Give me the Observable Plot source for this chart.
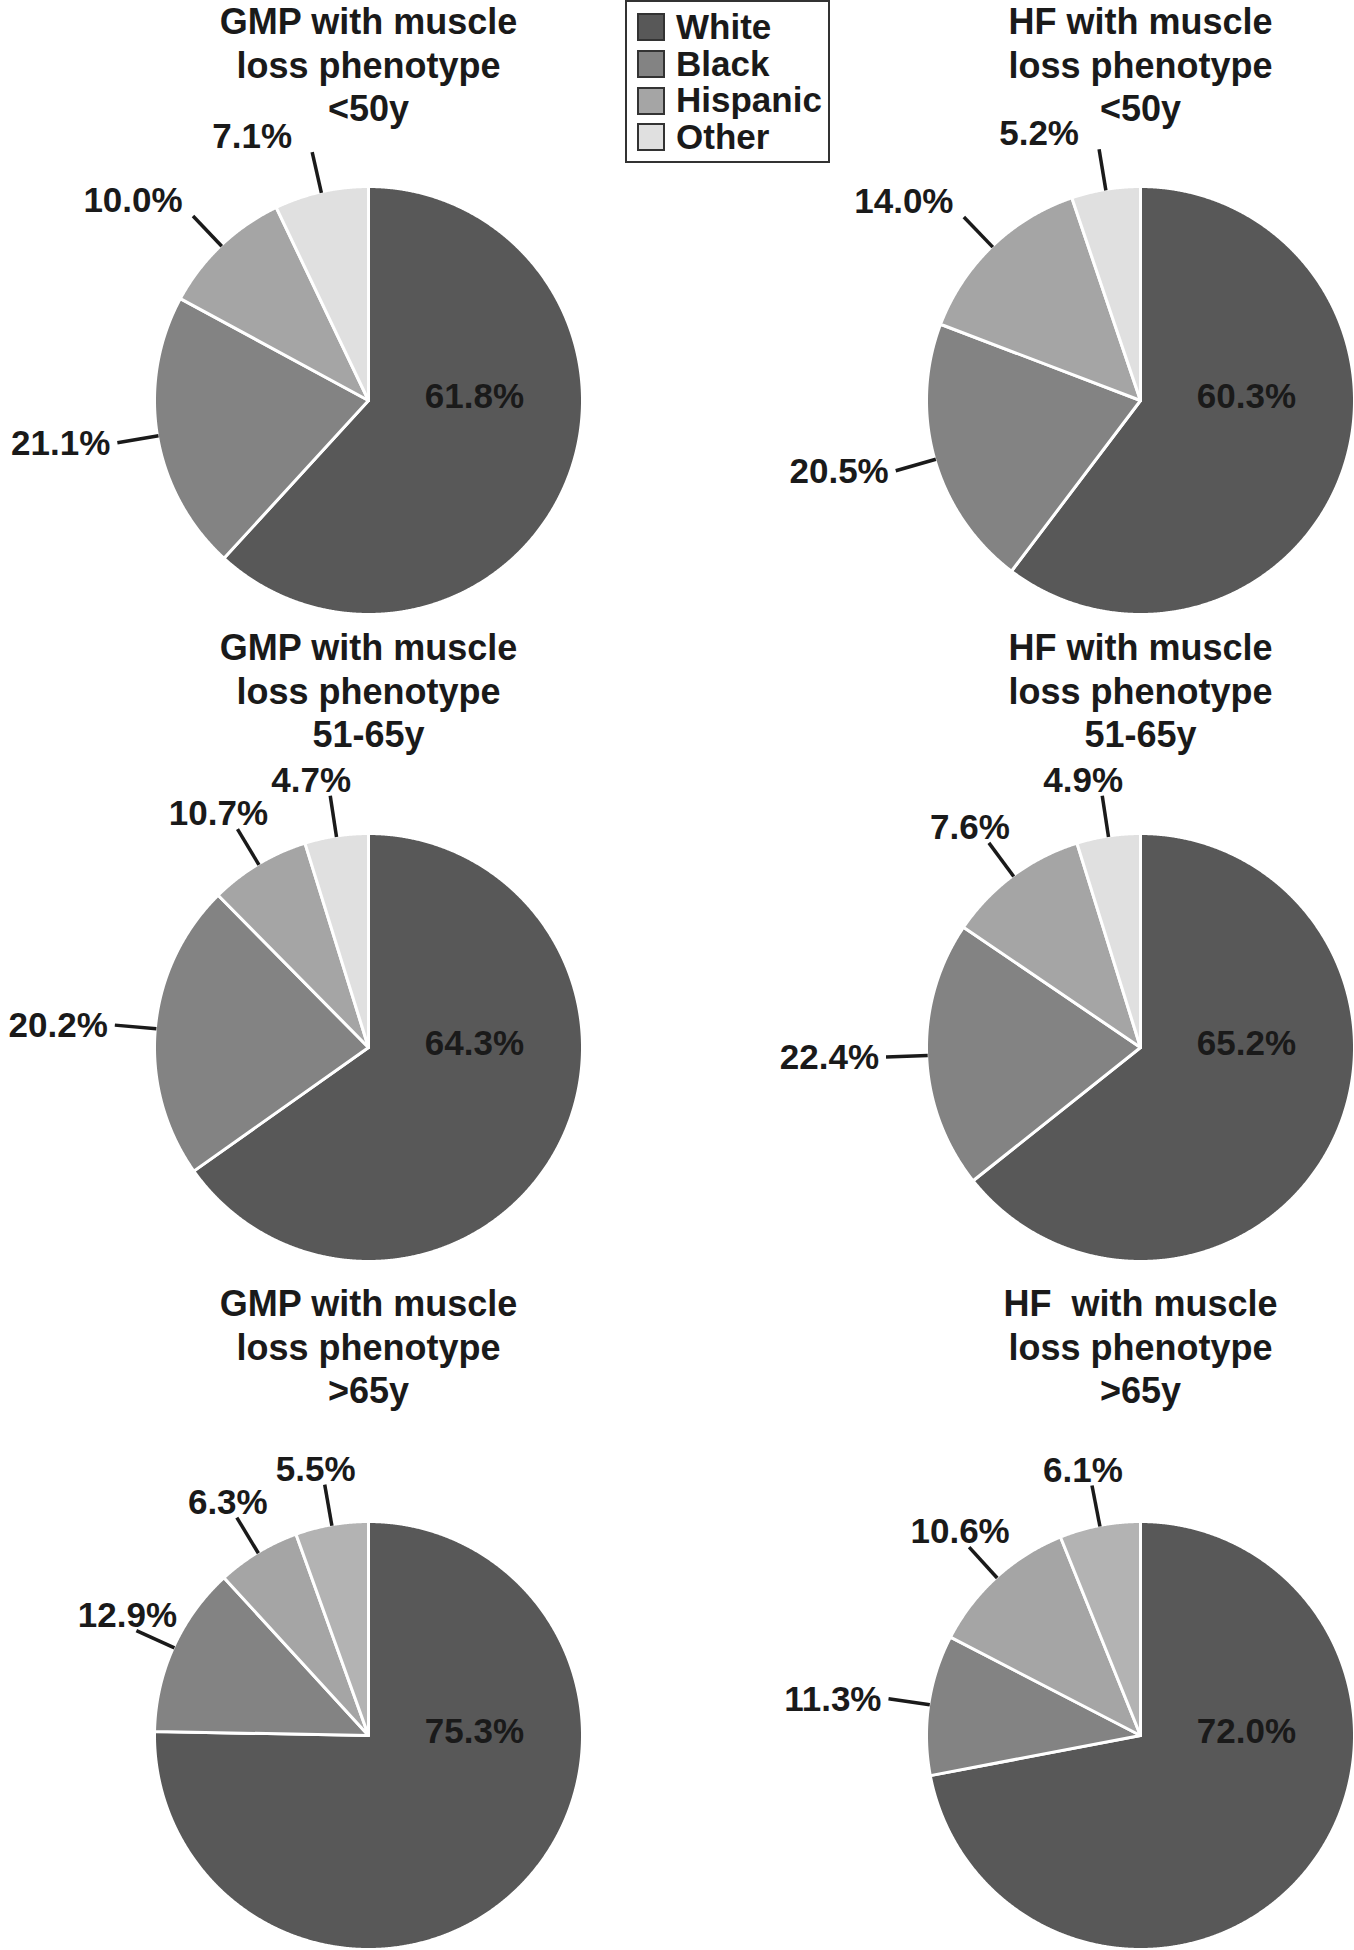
<!DOCTYPE html>
<html>
<head>
<meta charset="utf-8">
<script src="https://cdn.jsdelivr.net/npm/d3@7"></script>
<script src="https://cdn.jsdelivr.net/npm/@observablehq/plot@0.6"></script>
<style>
  html, body { margin: 0; padding: 0; background: #fff; }
  #wrap { position: relative; width: 1354px; height: 1950px; overflow: hidden; background: #fff; }
  #chart { position: absolute; left: 0; top: 0; }
  #legend { position: absolute; left: 625px; top: 0px; width: 205px; height: 163px; box-sizing: border-box;
            border: 2px solid #333; background: #fff; padding: 7px 0 0 11px; }
  #legend > div { margin: 0 !important; font: bold 35px "Liberation Sans", Arial, sans-serif !important; color: #1a1a1a; }
  #legend > div > div { padding-bottom: 0 !important; height: 36.7px; line-height: 36.7px; display: flex; align-items: center; }
  #legend > div > div > svg { margin-right: 12px !important; overflow: visible; }
  #legend > div > div > svg rect { stroke: #333; stroke-width: 2px; }
  #legend > div > div > div { overflow: visible !important; white-space: nowrap; }
</style>
</head>
<body>
<div id="wrap"><div id="chart"></div><div id="legend"></div></div>
<script>
// ---------------- data ----------------
const categories = ["White", "Black", "Hispanic", "Other"];
const groups = ["GMP", "HF"];
const ageBands = ["<50y", "51-65y", ">65y"];

const titleGmpUnder50 = ["GMP with muscle", "loss phenotype", "<50y"];
const titleHfUnder50 = ["HF with muscle", "loss phenotype", "<50y"];
const titleGmp51to65 = ["GMP with muscle", "loss phenotype", "51-65y"];
const titleHf51to65 = ["HF with muscle", "loss phenotype", "51-65y"];
const titleGmpOver65 = ["GMP with muscle", "loss phenotype", ">65y"];
const titleHfOver65 = ["HF\u00a0 with muscle", "loss phenotype", ">65y"];

// wedge sizes (%) as drawn in the figure, order White, Black, Hispanic, Other
const sharesGmpUnder50 = [61.8, 21.1, 10.0, 7.1];
const sharesHfUnder50 = [60.3, 20.5, 14.0, 5.2];
const sharesGmp51to65 = [65.2, 22.4, 7.6, 4.8];
const sharesHf51to65 = [64.3, 20.2, 10.7, 4.8];
const sharesGmpOver65 = [75.3, 12.9, 6.3, 5.5];
const sharesHfOver65 = [72.0, 10.6, 11.3, 6.1];

// printed percentage labels, same order
const labelsGmpUnder50 = ["61.8%", "21.1%", "10.0%", "7.1%"];
const labelsHfUnder50 = ["60.3%", "20.5%", "14.0%", "5.2%"];
const labelsGmp51to65 = ["64.3%", "20.2%", "10.7%", "4.7%"];
const labelsHf51to65 = ["65.2%", "22.4%", "7.6%", "4.9%"];
const labelsGmpOver65 = ["75.3%", "12.9%", "6.3%", "5.5%"];
const labelsHfOver65 = ["72.0%", "11.3%", "10.6%", "6.1%"];

// ---------------- styles / layout ----------------
const palette = ["#585858", "#838383", "#a5a5a5", "#e0e0e0"];
const otherAltColor = "#b3b3b3";   // "Other" wedge in the >65y pies
const W = 1354, H = 1950;
const colCenters = [368, 1140];
const rowCenters = [400, 1047, 1735];
const titleTops = [22, 648, 1304];
const titleStep = 43.5;
const R = 214;
const ink = "#1a1a1a";
const upLabelShiftX = [-60, -19, -9];  // per row: horizontal offset of labels above leader ends
const upLabelShiftY = -15;

const panels = [
  {col: 0, row: 0, title: titleGmpUnder50, shares: sharesGmpUnder50, labels: labelsGmpUnder50},
  {col: 1, row: 0, title: titleHfUnder50, shares: sharesHfUnder50, labels: labelsHfUnder50},
  {col: 0, row: 1, title: titleGmp51to65, shares: sharesGmp51to65, labels: labelsGmp51to65},
  {col: 1, row: 1, title: titleHf51to65, shares: sharesHf51to65, labels: labelsHf51to65},
  {col: 0, row: 2, title: titleGmpOver65, shares: sharesGmpOver65, labels: labelsGmpOver65},
  {col: 1, row: 2, title: titleHfOver65, shares: sharesHfOver65, labels: labelsHfOver65}
];

const pie = d3.pie().sort(null).value(d => d);
const wedgePts = [], leaders = [], sideLabels = [], topLabels = [], innerLabels = [], titleRows = [];

panels.forEach((p, pi) => {
  const cx = colCenters[p.col], cy = rowCenters[p.row];
  p.title.forEach((t, i) => titleRows.push({x: cx, y: titleTops[p.row] + i * titleStep, text: t}));
  pie(p.shares).forEach((a, i) => {
    const id = pi + "-" + i;
    const alt = p.row === 2 && i === 3;
    const span = a.endAngle - a.startAngle;
    const n = Math.max(2, Math.ceil(span / (Math.PI / 720)));
    wedgePts.push({x: cx, y: cy, id, cat: categories[i], alt});
    for (let k = 0; k <= n; k++) {
      const t = a.startAngle + span * k / n;
      wedgePts.push({x: cx + R * Math.sin(t), y: cy - R * Math.cos(t), id, cat: categories[i], alt});
    }
    const m = (a.startAngle + a.endAngle) / 2;
    const ux = Math.sin(m), uy = -Math.cos(m);
    if (i === 0) {
      const ang = 88 * Math.PI / 180;
      innerLabels.push({x: cx + 106 * Math.sin(ang), y: cy - 106 * Math.cos(ang), text: p.labels[i]});
    } else {
      const x1 = cx + R * 0.995 * ux, y1 = cy + R * 0.995 * uy;
      const x2 = cx + R * 1.19 * ux, y2 = cy + R * 1.19 * uy;
      leaders.push({x1, y1, x2, y2});
      if (Math.abs(uy) < 0.3) sideLabels.push({x: x2 - 7, y: y2 + 1, text: p.labels[i]});
      else topLabels.push({x: x2 + upLabelShiftX[p.row], y: y2 + upLabelShiftY, text: p.labels[i]});
    }
  });
});

const font = {fontSize: 35, fontWeight: "bold", fill: ink};

const chart = Plot.plot({
  width: W, height: H, margin: 0,
  x: {domain: [0, W], range: [0, W], axis: null},
  y: {domain: [0, H], range: [0, H], axis: null},
  color: {domain: categories, range: palette},
  style: {fontFamily: "'Liberation Sans', Arial, sans-serif", background: "#fff", color: ink},
  marks: [
    Plot.line(wedgePts.filter(d => !d.alt), {x: "x", y: "y", z: "id", fill: "cat", stroke: "#fff", strokeWidth: 3, curve: "linear-closed", strokeLinejoin: "round"}),
    Plot.line(wedgePts.filter(d => d.alt), {x: "x", y: "y", z: "id", fill: otherAltColor, stroke: "#fff", strokeWidth: 3, curve: "linear-closed", strokeLinejoin: "round"}),
    Plot.link(leaders, {x1: "x1", y1: "y1", x2: "x2", y2: "y2", stroke: ink, strokeWidth: 3.5, strokeLinecap: "butt"}),
    Plot.text(sideLabels, {x: "x", y: "y", text: "text", textAnchor: "end", ...font}),
    Plot.text(topLabels, {x: "x", y: "y", text: "text", textAnchor: "middle", ...font}),
    Plot.text(innerLabels, {x: "x", y: "y", text: "text", textAnchor: "middle", ...font}),
    Plot.text(titleRows, {x: "x", y: "y", text: "text", textAnchor: "middle", fontSize: 36, fontWeight: "bold", fill: ink})
  ]
});
document.getElementById("chart").append(chart);

const legend = Plot.legend({
  color: {type: "ordinal", domain: categories, range: palette, legend: "swatches"},
  columns: 1, swatchSize: 26, className: "lg"
});
document.getElementById("legend").append(legend);
</script>
</body>
</html>
